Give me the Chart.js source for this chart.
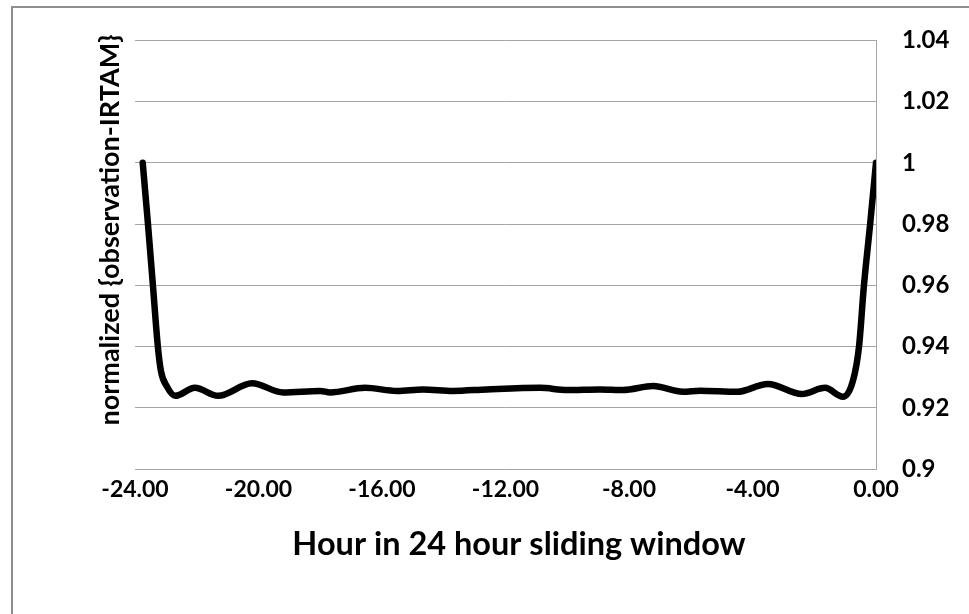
<!DOCTYPE html>
<html>
<head>
<meta charset="utf-8">
<script src="https://cdn.jsdelivr.net/npm/chart.js@4"></script>
<style>
  html, body { margin: 0; padding: 0; background: #ffffff; }
  #wrap { width: 969px; height: 614px; }
</style>
</head>
<body>
<div id="wrap"><canvas id="chart" width="969" height="614"></canvas></div>
<script>
// Hour offset inside the 24 h sliding window
const hours = [
  -23.75, -23.58, -23.42, -23.26, -23.16, -22.97, -22.70, -22.06, -21.31,
  -20.21, -19.20, -18.00, -17.68, -16.55, -15.51, -14.67, -13.70, -12.60,
  -10.88, -10.01, -8.94, -8.19, -7.22, -6.25, -5.70, -4.50, -3.50, -2.40, -1.65,
  -1.07, -0.75, -0.55, -0.39, -0.19, 0.00
];
// normalized {observation-IRTAM}
const normalized = [
  1.000, 0.980, 0.960, 0.940, 0.932, 0.927, 0.9239, 0.9265, 0.9239,
  0.9280, 0.9250, 0.9255, 0.9250, 0.9265, 0.9255, 0.9260, 0.9255, 0.9260,
  0.9265, 0.9258, 0.9260, 0.9258, 0.9271, 0.9252, 0.9256, 0.9252, 0.9278, 0.9245, 0.9265,
  0.9236, 0.9287, 0.9400, 0.9600, 0.9800, 1.000
];
const xTicks = [-24, -20, -16, -12, -8, -4, 0];
const yTicks = [0.9, 0.92, 0.94, 0.96, 0.98, 1, 1.02, 1.04];

const xTitle = 'Hour in 24 hour sliding window';
const yTitle = 'normalized {observation-IRTAM}';

const FONT = 'Lato, "Open Sans", sans-serif';

// Outer frame and white background
const framePlugin = {
  id: 'frame',
  beforeDraw(chart) {
    const ctx = chart.ctx;
    ctx.save();
    ctx.fillStyle = '#ffffff';
    ctx.fillRect(0, 0, chart.width, chart.height);
    ctx.strokeStyle = '#8f8f8f';
    ctx.lineWidth = 2;
    ctx.strokeRect(12, 7, chart.width + 20, chart.height + 20);
    ctx.restore();
  }
};

// Axis titles drawn outside the plot area
const titlePlugin = {
  id: 'axisTitles',
  afterDraw(chart) {
    const ctx = chart.ctx;
    ctx.save();
    ctx.fillStyle = '#000000';
    ctx.textAlign = 'center';
    ctx.textBaseline = 'middle';
    ctx.font = 'bold 32.5px ' + FONT;
    ctx.fillText(xTitle, 519, 545);
    ctx.font = 'bold 27px ' + FONT;
    ctx.translate(110, 230);
    ctx.rotate(-Math.PI / 2);
    ctx.fillText(yTitle, 0, 0);
    ctx.restore();
  }
};

new Chart(document.getElementById('chart'), {
  type: 'line',
  data: {
    datasets: [{
      data: hours.map((h, i) => ({ x: h, y: normalized[i] })),
      borderColor: '#000000',
      borderWidth: 6.5,
      pointRadius: 0,
      fill: false,
      cubicInterpolationMode: 'monotone',
      borderCapStyle: 'round',
      borderJoinStyle: 'round'
    }]
  },
  options: {
    responsive: false,
    animation: false,
    layout: { padding: { left: 135, top: 35, right: 0, bottom: 0 } },
    plugins: { legend: { display: false }, tooltip: { enabled: false } },
    scales: {
      x: {
        type: 'linear',
        min: -24,
        max: 0,
        afterBuildTicks(scale) { scale.ticks = xTicks.map(v => ({ value: v })); },
        afterFit(scale) { scale.height = 145; },
        grid: { display: false, drawTicks: false },
        border: { display: false },
        ticks: {
          color: '#000000',
          font: { family: FONT, size: 23, weight: 'bold' },
          padding: 7,
          maxRotation: 0,
          autoSkip: false,
          callback: v => Number(v).toFixed(2)
        }
      },
      y: {
        position: 'right',
        min: 0.9,
        max: 1.04,
        afterBuildTicks(scale) { scale.ticks = yTicks.map(v => ({ value: v })); },
        afterFit(scale) { scale.width = 93; },
        grid: { color: '#a6a6a6', lineWidth: 1, drawTicks: false },
        border: { display: true, color: '#a6a6a6', width: 1 },
        ticks: {
          color: '#000000',
          font: { family: FONT, size: 24, weight: 'bold' },
          padding: 26,
          autoSkip: false,
          callback: v => String(Number(Number(v).toFixed(2)))
        }
      }
    }
  },
  plugins: [framePlugin, titlePlugin]
});
</script>
</body>
</html>
